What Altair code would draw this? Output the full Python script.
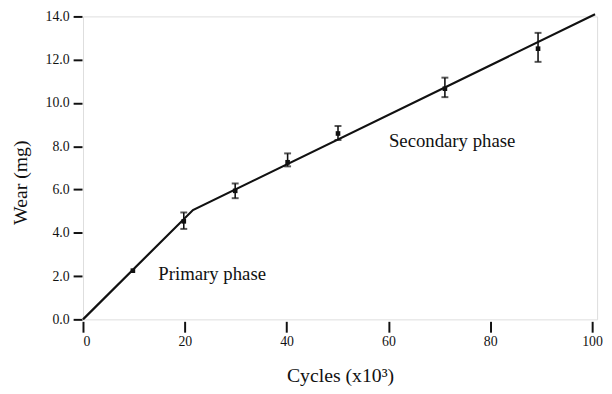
import altair as alt
import pandas as pd

# fitted wear curve (two phases)
line_x = [0.0, 21.6, 100.6]
line_y = [0.0, 5.05, 14.1]

# measured points
pt_x = [9.8, 19.8, 29.9, 40.2, 50.1, 71.1, 89.4]
pt_y = [2.25, 4.53, 5.94, 7.26, 8.59, 10.66, 12.51]

# error bars (no visible bar on the first point)
err_x = [19.8, 29.9, 40.2, 50.1, 71.1, 89.4]
err_lo = [4.18, 5.60, 7.07, 8.29, 10.27, 11.90]
err_hi = [4.94, 6.28, 7.67, 8.94, 11.17, 13.24]

labels = ["Primary phase", "Secondary phase"]
label_x = [14.8, 60.1]
label_y = [1.82, 7.98]

FONT = "Liberation Serif"

line_df = pd.DataFrame({"x": line_x, "y": line_y})
pt_df = pd.DataFrame({"x": pt_x, "y": pt_y})
err_df = pd.DataFrame({"x": err_x, "lo": err_lo, "hi": err_hi})
lab_df = pd.DataFrame({"t": labels, "x": label_x, "y": label_y})

xs = alt.Scale(domain=[0, 101], nice=False, zero=False)
ys = alt.Scale(domain=[0, 14], nice=False, zero=False)

xaxis = alt.Axis(
    title="Cycles (x10³)", values=[0, 20, 40, 60, 80, 100], format="d",
    domain=False, grid=False, ticks=True, tickSize=11, tickWidth=2, tickColor="#111",
    offset=2, labelFont=FONT, labelFontSize=14, labelColor="#111", labelPadding=3,
    titleFont=FONT, titleFontSize=20, titleFontWeight="normal", titleColor="#111",
    titleY=55, titleBaseline="middle",
)
yaxis = alt.Axis(
    title="Wear (mg)", values=[0, 2, 4, 6, 8, 10, 12, 14], format=".1f",
    domain=False, grid=False, ticks=True, tickSize=9, tickWidth=2, tickColor="#111",
    offset=1, labelFont=FONT, labelFontSize=14, labelColor="#111", labelPadding=4,
    titleFont=FONT, titleFontSize=20, titleFontWeight="normal", titleColor="#111",
    titleX=-62, titleY=168, titleBaseline="middle", titleAlign="center",
)

base_line = alt.Chart(line_df).mark_line(color="#111", strokeWidth=2.2, clip=False).encode(
    x=alt.X("x:Q", scale=xs, axis=xaxis),
    y=alt.Y("y:Q", scale=ys, axis=yaxis),
)

bars = alt.Chart(err_df).mark_rule(color="#111", strokeWidth=1.6).encode(
    x=alt.X("x:Q", scale=xs), y=alt.Y("lo:Q", scale=ys), y2="hi:Q"
)
cap_lo = alt.Chart(err_df).mark_tick(color="#111", orient="horizontal", size=7, thickness=2).encode(
    x=alt.X("x:Q", scale=xs), y=alt.Y("lo:Q", scale=ys)
)
cap_hi = alt.Chart(err_df).mark_tick(color="#111", orient="horizontal", size=7, thickness=2).encode(
    x=alt.X("x:Q", scale=xs), y=alt.Y("hi:Q", scale=ys)
)
pts = alt.Chart(pt_df).mark_square(color="#111", size=22, opacity=1).encode(
    x=alt.X("x:Q", scale=xs), y=alt.Y("y:Q", scale=ys)
)
texts = alt.Chart(lab_df).mark_text(
    font=FONT, fontSize=19, color="#111", align="left", baseline="alphabetic"
).encode(x=alt.X("x:Q", scale=xs), y=alt.Y("y:Q", scale=ys), text="t:N")

chart = alt.layer(base_line, bars, cap_lo, cap_hi, pts, texts).properties(
    width=521, height=307,
    padding={"left": 76, "top": 6, "right": 7, "bottom": 65},
    autosize=alt.AutoSizeParams(type="none"),
    background="white",
).configure_view(stroke="#333", strokeWidth=1.2).configure_axis(
    labelFont=FONT, titleFont=FONT
).configure(font=FONT)

chart.save("out.html", embed_options={"renderer": "svg", "actions": False})
